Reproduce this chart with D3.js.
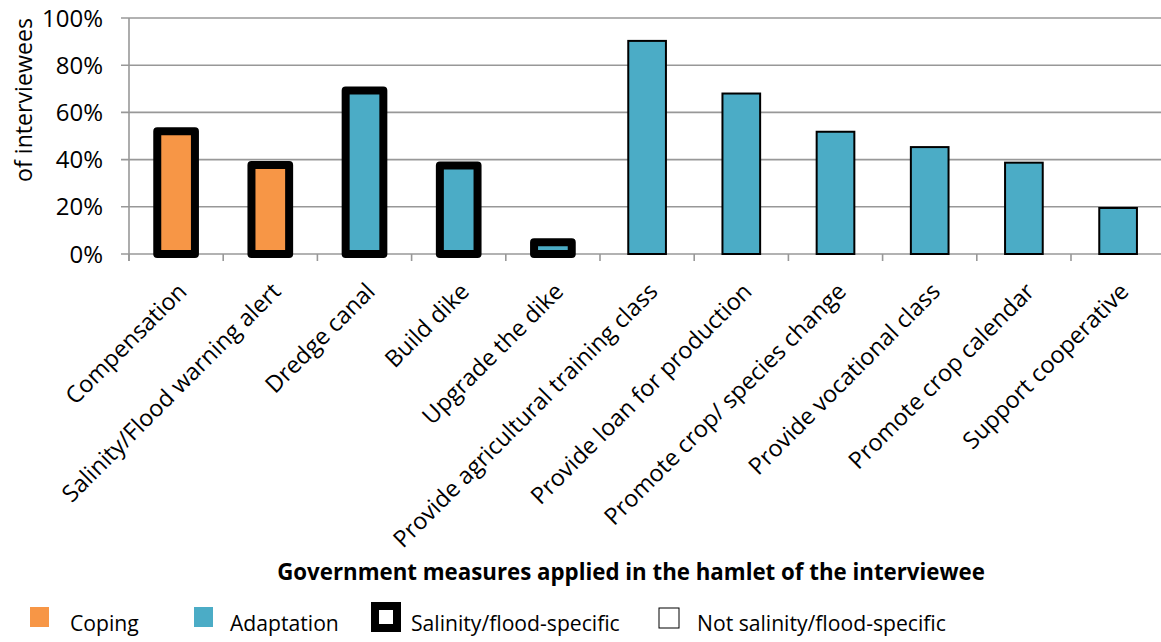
<!DOCTYPE html>
<html><head><meta charset="utf-8">
<script src="https://cdn.jsdelivr.net/npm/d3@7"></script>
<style>
html,body{margin:0;padding:0;background:#fff;}
svg{display:block;font-family:"Open Sans", Lato, sans-serif;}
</style></head>
<body>
<svg id="chart" width="1161" height="642"></svg>
<script>
const categories = ["Compensation","Salinity/Flood warning alert","Dredge canal","Build dike","Upgrade the dike","Provide agricultural training class","Provide loan for production","Promote crop/ species change","Provide vocational class","Promote crop calendar","Support cooperative"];
const values = [0.52, 0.377, 0.693, 0.375, 0.05, 0.903, 0.68, 0.518, 0.453, 0.387, 0.195];
const measureType = ["Coping","Coping","Adaptation","Adaptation","Adaptation","Adaptation","Adaptation","Adaptation","Adaptation","Adaptation","Adaptation"];
const floodSpecific = [true,true,true,true,true,false,false,false,false,false,false];
const yTicks = [0,0.2,0.4,0.6,0.8,1.0];
const legendItems = ["Coping","Adaptation","Salinity/flood-specific","Not salinity/flood-specific"];
const xTitle = "Government measures applied in the hamlet of the interviewee";
const yTitle = "of interviewees";

const colors = {Coping:"#F79646", Adaptation:"#4BACC6"};
const svg = d3.select("#chart");
const mLeft = 129, band = 94.2, mTop = 18, mBottom = 254;
const x = d3.scaleBand().domain(categories).range([mLeft, mLeft + band*categories.length]).paddingInner(0.6).paddingOuter(0.3);
const y = d3.scaleLinear().domain([0,1]).range([mBottom, mTop]);

// font size fitted so that a reference string has the given rendered width
function fitSize(str, target, weight){
  const t = svg.append("text").attr("font-size",20).attr("font-weight",weight||"normal").text(str);
  const w = t.node().getComputedTextLength();
  t.remove();
  return 20*target/w;
}
const fsTick = fitSize("100%", 61);
const fsCat = fitSize("Provide agricultural training class", 362);
const fsXTitle = fitSize(xTitle, 708, "bold");
const fsLegend = fitSize("Not salinity/flood-specific", 249);
const fsYTitle = fitSize(yTitle, 164);

// gridlines
svg.append("g").selectAll("line").data(yTicks).join("line")
  .attr("x1", mLeft-8).attr("x2", 1161).attr("y1", d=>y(d)).attr("y2", d=>y(d))
  .attr("stroke","#989898").attr("stroke-width",1.6);
// y axis line
svg.append("line").attr("x1",mLeft).attr("x2",mLeft).attr("y1",mTop).attr("y2",mBottom+7)
  .attr("stroke","#989898").attr("stroke-width",1.6);
// x ticks at band boundaries
const boundaries = d3.range(categories.length+1).map(i=>mLeft + i*band);
svg.append("g").selectAll("line").data(boundaries).join("line")
  .attr("x1",d=>d).attr("x2",d=>d).attr("y1",mBottom).attr("y2",mBottom+7)
  .attr("stroke","#989898").attr("stroke-width",1.6);

// y tick labels
svg.append("g").selectAll("text").data(yTicks).join("text")
  .attr("x",103).attr("y",d=>y(d)).attr("dy","0.36em").attr("text-anchor","end")
  .attr("font-size",fsTick).attr("fill","#000").text(d=>d3.format(".0%")(d));

// bars
const bars = categories.map((c,i)=>({c, v:values[i], t:measureType[i], s:floodSpecific[i]}));
svg.append("g").selectAll("rect").data(bars).join("rect")
  .attr("x", d=>x(d.c)).attr("width", x.bandwidth())
  .attr("y", d=>y(d.v)).attr("height", d=>y(0)-y(d.v))
  .attr("fill", d=>colors[d.t]).attr("stroke","#000")
  .attr("stroke-width", d=>d.s?8:2).attr("stroke-linejoin", d=>d.s?"round":"miter");

// x labels
svg.append("g").selectAll("text").data(categories).join("text")
  .attr("transform", d=>`translate(${x(d)+x.bandwidth()/2+3},${mBottom+30}) rotate(-45)`)
  .attr("text-anchor","end").attr("dy","0.54em")
  .attr("font-size",fsCat).attr("fill","#000").text(d=>d);

// axis titles
svg.append("text").attr("x",631).attr("y",580).attr("text-anchor","middle")
  .attr("font-size",fsXTitle).attr("font-weight","bold").text(xTitle);
svg.append("text").attr("transform","translate(32,100) rotate(-90)").attr("text-anchor","middle")
  .attr("font-size",fsYTitle).text(yTitle);

// legend
const lg = svg.append("g");
const legX = [30, 194, 371, 658];
const textX = [70, 230, 411, 697];
legendItems.forEach((name,i)=>{
  if(i<2){
    lg.append("rect").attr("x",legX[i]).attr("y",607).attr("width",19).attr("height",20).attr("fill",colors[name]);
  } else if(i===2){
    lg.append("rect").attr("x",legX[i]+4).attr("y",606).attr("width",22).attr("height",22)
      .attr("fill","#fff").attr("stroke","#000").attr("stroke-width",8);
  } else {
    lg.append("rect").attr("x",legX[i]+1).attr("y",608).attr("width",20).attr("height",20)
      .attr("fill","#fff").attr("stroke","#000").attr("stroke-width",1);
  }
  lg.append("text").attr("x",textX[i]).attr("y",623).attr("dy","0.36em").attr("font-size",fsLegend).text(name);
});
</script>
</body></html>
